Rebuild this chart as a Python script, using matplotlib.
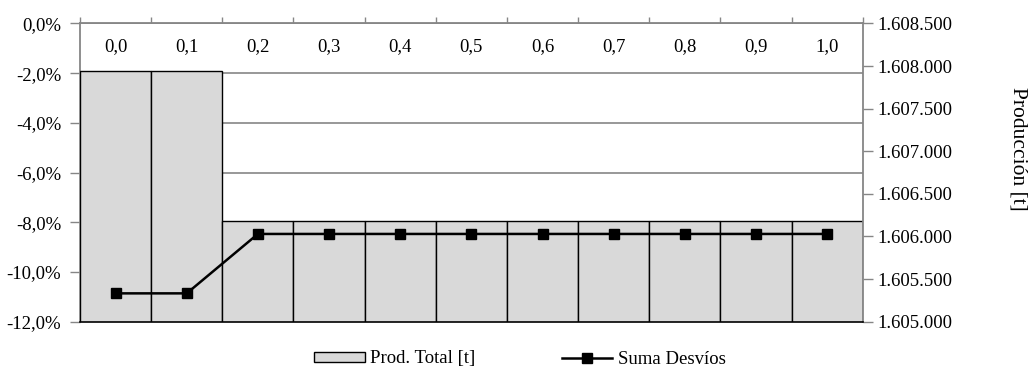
import matplotlib
matplotlib.use("Agg")
import matplotlib.pyplot as plt
from matplotlib.ticker import FuncFormatter, FixedLocator
from matplotlib.patches import Patch
from matplotlib.lines import Line2D
import numpy as np

plt.rcParams['font.family'] = ['Liberation Serif', 'DejaVu Serif']

categories = ["0,0", "0,1", "0,2", "0,3", "0,4", "0,5", "0,6", "0,7", "0,8", "0,9", "1,0"]
prod_total = [1607940, 1607940, 1606186, 1606186, 1606186, 1606186, 1606186,
              1606186, 1606186, 1606186, 1606186]
suma_desvios = [-10.86, -10.86, -8.47, -8.47, -8.47, -8.47, -8.47, -8.47, -8.47, -8.47, -8.47]
pct_ticks = [0, -2, -4, -6, -8, -10, -12]
prod_ticks = [1605000, 1605500, 1606000, 1606500, 1607000, 1607500, 1608000, 1608500]

FS = 13.5
GRAY = '#868686'

fig = plt.figure(figsize=(10.3, 3.67), dpi=100)
rect = [80/1030, 1-321.7/367, (862.7-80)/1030, (321.7-23.4)/367]
ax1 = fig.add_axes(rect)
ax2 = ax1.twinx()
ax3 = ax1.twinx()

x = np.arange(len(categories))
n = len(categories)

# percent axis (left) with gridlines
ax1.set_xlim(-0.5, n-0.5)
ax1.set_ylim(-12, 0)
ax1.yaxis.set_major_locator(FixedLocator(pct_ticks))
ax1.yaxis.set_major_formatter(FuncFormatter(lambda v, p: f"{v:.1f}%".replace('.', ',')))
ax1.grid(axis='y', color=GRAY, linewidth=1.2, zorder=0)
ax1.set_axisbelow(True)
ax1.tick_params(axis='y', direction='out', length=7.5, width=1, color=GRAY, labelsize=FS, pad=6)
ax1.xaxis.set_major_locator(FixedLocator(np.arange(-0.5, n, 1.0)))
ax1.tick_params(axis='x', top=True, bottom=False, labeltop=False, labelbottom=False,
                direction='out', length=4, width=1, color=GRAY)
for s in ['left', 'top']:
    ax1.spines[s].set_color(GRAY)
    ax1.spines[s].set_linewidth(1.3)
ax1.spines['right'].set_visible(False)
ax1.spines['bottom'].set_visible(False)
for xi, lab in zip(x, categories):
    ax1.text(xi, -0.95, lab, ha='center', va='center', fontsize=FS)

# production axis (right) with bars
ax2.bar(x, prod_total, width=1.0, bottom=0, color='#d9d9d9', edgecolor='black', linewidth=1.0, zorder=2)
ax2.set_ylim(1605000, 1608500)
ax2.set_xlim(-0.5, n-0.5)
ax2.yaxis.set_major_locator(FixedLocator(prod_ticks))
ax2.yaxis.set_major_formatter(FuncFormatter(lambda v, p: f"{int(v):,}".replace(',', '.')))
ax2.tick_params(axis='y', direction='out', length=7.5, width=1, color=GRAY, labelsize=FS, pad=3)
ax2.spines['right'].set_color(GRAY)
ax2.spines['right'].set_linewidth(1.3)
ax2.spines['bottom'].set_color('black')
ax2.spines['bottom'].set_linewidth(1.2)
for s in ['left', 'top']:
    ax2.spines[s].set_visible(False)
ax2.patch.set_visible(False)
fig.text(1018/1030, 1-149/367, "Producción [t]", rotation=-90, fontsize=15.5,
         ha='center', va='center')

# line on percent scale
ax3.plot(x, suma_desvios, color='black', linewidth=1.8, marker='s', markersize=7, zorder=3)
ax3.set_ylim(-12, 0)
ax3.set_xlim(-0.5, n-0.5)
ax3.set_yticks([])
ax3.tick_params(axis='x', top=False, bottom=False, labeltop=False, labelbottom=False)
for s in ax3.spines.values():
    s.set_visible(False)
ax3.patch.set_visible(False)

handles = [Patch(facecolor='#d9d9d9', edgecolor='black', linewidth=1.0),
           Line2D([0], [0], color='black', linewidth=1.8, marker='s', markersize=7)]
fig.legend(handles, ["Prod. Total [t]", "Suma Desvíos"], loc='center',
           bbox_to_anchor=(520/1030, 1-359/367), ncol=2, frameon=False, fontsize=FS,
           handlelength=2.7, handleheight=0.5, handletextpad=0.3, columnspacing=4.6)

fig.savefig("out.png", dpi=100)
